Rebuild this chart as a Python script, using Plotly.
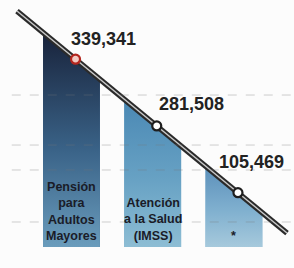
import plotly.graph_objects as go

# ---- data ----
categories = ["Pensión para Adultos Mayores", "Atención a la Salud (IMSS)", "*"]
bar_labels = ["Pensión<br>para<br>Adultos<br>Mayores", "Atención<br>a la Salud<br>(IMSS)", "*"]
values = [339341, 281508, 105469]
grid_vals = [196900, 132100, 99800, 32400]

# ---- styles ----
W, H = 294, 268
BG = "#fcfcfc"
top_colors = ["#18223a", "#4a88b4", "#5b8fba"]
bottom_colors = ["#6a9cbc", "#8dbdd4", "#a6c9dc"]
mid_colors = ["#3a6388", "#68a2c4", "#80b0cf"]
marker_fill = ["#f2c9c2", "#ffffff", "#ffffff"]
marker_line = ["#b3261e", "#1e1e1e", "#1e1e1e"]
label_anchor = ["left", "left", "right"]
label_shift = [(-7, 20), (0, 22), (48, 31)]
cat_shift = [2, 2, 2]

XR = [-0.88, 2.74]
YR = [0, 320000]
BW = 0.7

# decorative diagonal line (axis units)
L0 = (-0.671, 305700)
L1 = (2.654, 18100)


def line_y(xv):
    return L0[1] + (L1[1] - L0[1]) * (xv - L0[0]) / (L1[0] - L0[0])


xs = list(range(len(values)))
fig = go.Figure()

fig.add_trace(go.Bar(x=xs, y=values, width=BW, marker_color=mid_colors,
                     marker_line_width=0, hoverinfo="skip", showlegend=False))

# gradient overlay on each bar (same footprint as the bar)
for i, v in enumerate(values):
    x0, x1 = i - BW / 2, i + BW / 2
    fig.add_trace(go.Scatter(
        x=[x0, x1, x1, x0, x0], y=[0, 0, v, v, 0], mode="lines",
        line=dict(width=0), fill="toself",
        fillgradient=dict(type="vertical",
                          colorscale=[[0, bottom_colors[i]], [0.45, mid_colors[i]],
                                      [1, top_colors[i]]],
                          start=0, stop=line_y(x0)),
        hoverinfo="skip", showlegend=False))

# white mask above the diagonal
fig.add_trace(go.Scatter(
    x=[XR[0], XR[1], XR[1], XR[0], XR[0]],
    y=[line_y(XR[0]), line_y(XR[1]), 500000, 500000, line_y(XR[0])],
    mode="lines", line=dict(width=0), fill="toself", fillcolor=BG,
    hoverinfo="skip", showlegend=False))

# the diagonal line (dark outline + light core)
fig.add_trace(go.Scatter(x=[L0[0], L1[0]], y=[L0[1], L1[1]], mode="lines",
                         line=dict(color="#2a2a2a", width=5.5),
                         hoverinfo="skip", showlegend=False))
fig.add_trace(go.Scatter(x=[L0[0], L1[0]], y=[L0[1], L1[1]], mode="lines",
                         line=dict(color="#c9c9c9", width=1.5),
                         hoverinfo="skip", showlegend=False))

mx = [i + 0.05 for i in xs]
my = [line_y(v) for v in mx]
fig.add_trace(go.Scatter(x=mx, y=my, mode="markers",
                         marker=dict(size=9, color=marker_fill,
                                     line=dict(color=marker_line, width=2.2)),
                         hoverinfo="skip", showlegend=False))

for g in grid_vals:
    fig.add_shape(type="line", xref="paper", yref="y", x0=0.04, x1=0.99, y0=g, y1=g,
                  line=dict(color="rgba(120,120,120,0.35)", width=1, dash="dash"),
                  layer="above")

for i, v in enumerate(values):
    dx, dy = label_shift[i]
    fig.add_annotation(x=mx[i], y=my[i], text="<b>{:,}</b>".format(v), showarrow=False,
                       xanchor=label_anchor[i], yanchor="middle", xshift=dx, yshift=dy,
                       font=dict(family="Liberation Sans", size=18, color="#222222"))
    fig.add_annotation(x=i, y=0, text="<b>" + bar_labels[i] + "</b>", showarrow=False,
                       xanchor="center", yanchor="bottom", yshift=cat_shift[i],
                       font=dict(family="Liberation Sans", size=12.5, color="#1a1c28"))

fig.update_layout(
    width=W, height=H, margin=dict(l=0, r=0, t=0, b=21),
    paper_bgcolor=BG, plot_bgcolor=BG, bargap=0.3, showlegend=False,
    xaxis=dict(range=XR, visible=False, fixedrange=True),
    yaxis=dict(range=YR, visible=False, fixedrange=True),
)

fig.write_html("out.html", config={"displayModeBar": False},
               post_script="document.body.style.margin='0';")
